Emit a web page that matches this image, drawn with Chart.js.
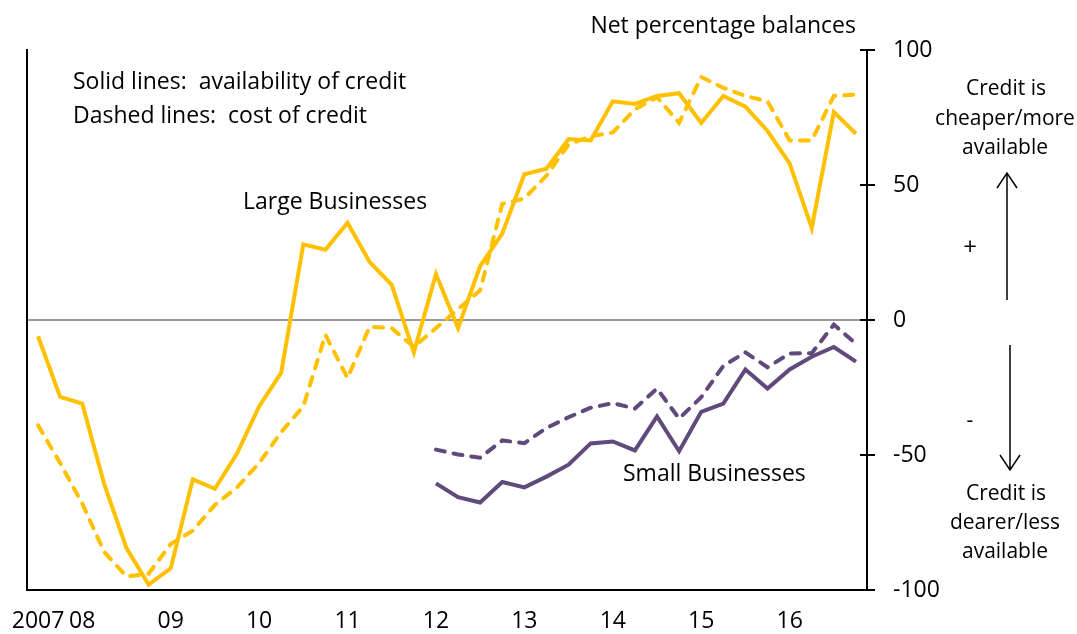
<!DOCTYPE html>
<html><head><meta charset="utf-8">
<script src="https://cdn.jsdelivr.net/npm/chart.js@4.4.1/dist/chart.umd.min.js"></script>
<style>html,body{margin:0;padding:0;background:#fff}#wrap{width:1077px;height:634px;position:relative}</style>
</head><body><div id="wrap"><canvas id="c" width="1077" height="634"></canvas></div>
<script>
// Quarterly categories, labelled once per year
const xLabels = ["2007","","08","","","","09","","","","10","","","","11","","","","12","","","","13","","","","14","","","","15","","","","16","","",""];
const yTicks = [-100,-50,0,50,100];
// Large businesses
const largeAvailability = [-6,-28.5,-31,-61,-84.5,-98,-92,-59,-62.5,-49.5,-32,-19.5,28,26,36,21.5,13,-12,17,-3,20,32,54,56,67,66.5,81,80,83,84,73,83,79,70,58,34,77,69];
const largeCost = [-39,-53,-68,-86,-95,-94,-83,-78,-68.5,-62,-53,-41.5,-32,-5.5,-21.5,-2.5,-3,-10,-3,4,11,43,45,53.5,65,68,69.5,78,82.5,73,90,86,83,81,66.5,66.5,83,83.5];
// Small businesses (series begins in 2012)
const smallStart = 18;
const smallAvailability = [-60.5,-65.6,-67.6,-60,-62,-58,-53.6,-45.7,-45,-48.3,-35.7,-48.6,-34,-31,-18.3,-25.4,-18.3,-13.6,-10,-15.4];
const smallCost = [-48,-49.8,-51,-44.6,-45.6,-40,-36,-32.5,-30.8,-32.8,-25.4,-36.5,-28.6,-17,-12,-17.5,-12.4,-12.3,-1.7,-8.8];

const GOLD = '#FFC000', PURPLE = '#604A7B';
const FONT = '"Open Sans", sans-serif';
const FS = 23;
Chart.defaults.font.family = FONT;
Chart.defaults.color = '#000';

const pad = arr => Array(smallStart).fill(null).concat(arr);

const annotations = {
  id: 'annotations',
  afterDraw(chart) {
    const ctx = chart.ctx, y = chart.scales.y;
    ctx.save();
    // cross ticks on the right axis
    ctx.strokeStyle = '#000'; ctx.lineWidth = 2;
    yTicks.forEach(v => {
      const py = Math.round(y.getPixelForValue(v));
      ctx.beginPath(); ctx.moveTo(y.left - 7, py); ctx.lineTo(y.left + 8, py); ctx.stroke();
    });
    ctx.fillStyle = '#000';
    ctx.textBaseline = 'middle';
    ctx.font = FS + 'px ' + FONT;
    ctx.textAlign = 'right';
    ctx.fillText('Net percentage balances', 856, 26);
    ctx.textAlign = 'left';
    ctx.fillText('Solid lines:  availability of credit', 73, 82);
    ctx.fillText('Dashed lines:  cost of credit', 73, 116);
    ctx.fillText('Large Businesses', 243, 202);
    ctx.fillText('Small Businesses', 623, 474);
    ctx.font = '21px ' + FONT;
    ctx.textAlign = 'center';
    ctx.fillText('Credit is', 1006, 89);
    ctx.fillText('cheaper/more', 1005, 119);
    ctx.fillText('available', 1005, 148);
    ctx.fillText('-', 970, 421);
    ctx.fillText('Credit is', 1006, 494);
    ctx.fillText('dearer/less', 1005, 523);
    ctx.fillText('available', 1005, 552);
    ctx.font = '24px ' + FONT;
    ctx.fillText('+', 970, 248);
    // arrows
    ctx.lineWidth = 1.5;
    ctx.beginPath();
    ctx.moveTo(1007, 300); ctx.lineTo(1007, 173);
    ctx.moveTo(997, 188); ctx.lineTo(1007, 173); ctx.lineTo(1017, 188);
    ctx.moveTo(1010, 345); ctx.lineTo(1010, 470);
    ctx.moveTo(1000, 455); ctx.lineTo(1010, 470); ctx.lineTo(1020, 455);
    ctx.stroke();
    ctx.restore();
  }
};

new Chart(document.getElementById('c'), {
  type: 'line',
  data: {
    labels: xLabels,
    datasets: [
      {label: 'Large – availability', data: largeAvailability, borderColor: GOLD, borderWidth: 4, pointRadius: 0, fill: false, tension: 0},
      {label: 'Large – cost', data: largeCost, borderColor: GOLD, borderWidth: 4, borderDash: [9, 9], borderCapStyle: 'round', pointRadius: 0, fill: false, tension: 0},
      {label: 'Small – availability', data: pad(smallAvailability), borderColor: PURPLE, borderWidth: 4, pointRadius: 0, fill: false, tension: 0},
      {label: 'Small – cost', data: pad(smallCost), borderColor: PURPLE, borderWidth: 4, borderDash: [9, 9], borderCapStyle: 'round', pointRadius: 0, fill: false, tension: 0}
    ]
  },
  options: {
    responsive: false,
    animation: false,
    devicePixelRatio: 1,
    layout: {padding: {left: 27, right: 0, top: 50, bottom: 0}},
    plugins: {legend: {display: false}, tooltip: {enabled: false}},
    scales: {
      x: {
        type: 'category', offset: true,
        grid: {display: false, drawTicks: false},
        border: {display: true, color: '#000', width: 2},
        ticks: {autoSkip: false, maxRotation: 0, minRotation: 0, padding: 18, color: '#000', font: {size: FS}},
        afterFit: s => { s.height = 44; s.paddingLeft = 0; s.paddingRight = 0; }
      },
      y: {
        position: 'right', min: -100, max: 100,
        afterBuildTicks: s => { s.ticks = yTicks.map(v => ({value: v})); },
        ticks: {padding: 26, color: '#000', font: {size: FS}},
        grid: {drawOnChartArea: true, drawTicks: false, lineWidth: 2,
               color: c => (c.tick && c.tick.value === 0) ? '#999999' : 'rgba(0,0,0,0)'},
        border: {display: true, color: '#000', width: 2},
        afterFit: s => { s.width = 210; s.paddingTop = 0; s.paddingBottom = 0; }
      },
      yl: {
        position: 'left', min: -100, max: 100,
        ticks: {display: false},
        grid: {display: false, drawTicks: false},
        border: {display: true, color: '#000', width: 2},
        afterFit: s => { s.width = 0; }
      }
    }
  },
  plugins: [annotations]
});
</script></body></html>
